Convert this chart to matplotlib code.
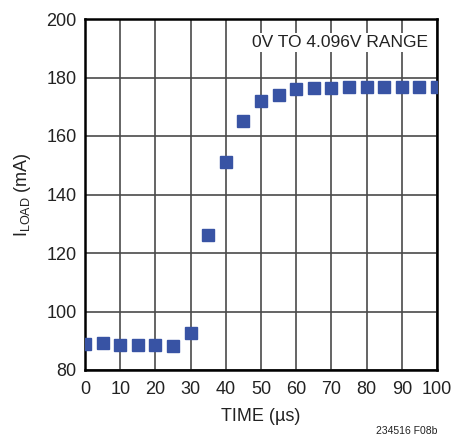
import matplotlib
matplotlib.use("Agg")
import matplotlib.pyplot as plt

# load current vs time
time_us = [0, 5, 10, 15, 20, 25, 30, 35, 40, 45, 50, 55, 60, 65, 70, 75, 80, 85, 90, 95, 100]
i_load = [88.9, 89.1, 88.7, 88.7, 88.7, 88.3, 92.6, 126.2, 151.2, 165.1, 171.8, 174.0, 175.9,
          176.4, 176.5, 176.7, 176.8, 176.8, 176.8, 176.8, 176.8]

xticks = list(range(0, 101, 10))
yticks = list(range(80, 201, 20))

plt.rcParams['font.family'] = ['Liberation Sans', 'DejaVu Sans']
plt.rcParams['mathtext.fontset'] = 'custom'
plt.rcParams['mathtext.rm'] = 'Liberation Sans'

fig = plt.figure(figsize=(4.53, 4.38), dpi=100)
ax = fig.add_axes([85 / 453, 68 / 438, 352 / 453, 351 / 438])

ax.plot(time_us, i_load, linestyle='none', marker='s', markersize=8,
        color='#3853a4', zorder=3)

ax.set_xlim(0, 100)
ax.set_ylim(80, 200)
ax.set_xticks(xticks)
ax.set_yticks(yticks)
ax.grid(True, color='#4a4a4a', linewidth=1.2)
ax.set_axisbelow(True)
ax.tick_params(length=0, labelsize=13, colors='#222222')
ax.tick_params(axis='x', pad=8)
ax.tick_params(axis='y', pad=6)
for s in ax.spines.values():
    s.set_linewidth(1.8)
    s.set_color('black')

ax.set_xlabel('TIME (µs)', fontsize=13, color='#222222', labelpad=7)
ax.set_ylabel(r'I$_{\mathregular{LOAD}}$ (mA)', fontsize=13, color='#222222', labelpad=10)

ax.text(0.975, 0.955, '0V TO 4.096V RANGE', transform=ax.transAxes, ha='right', va='top',
        fontsize=12.5, color='#222222', zorder=4,
        bbox=dict(facecolor='white', edgecolor='none', pad=1.5))

fig.text(437 / 453, 2 / 438, '234516 F08b', ha='right', va='bottom', fontsize=7.5, color='#222222')

fig.savefig('out.png', dpi=100)
